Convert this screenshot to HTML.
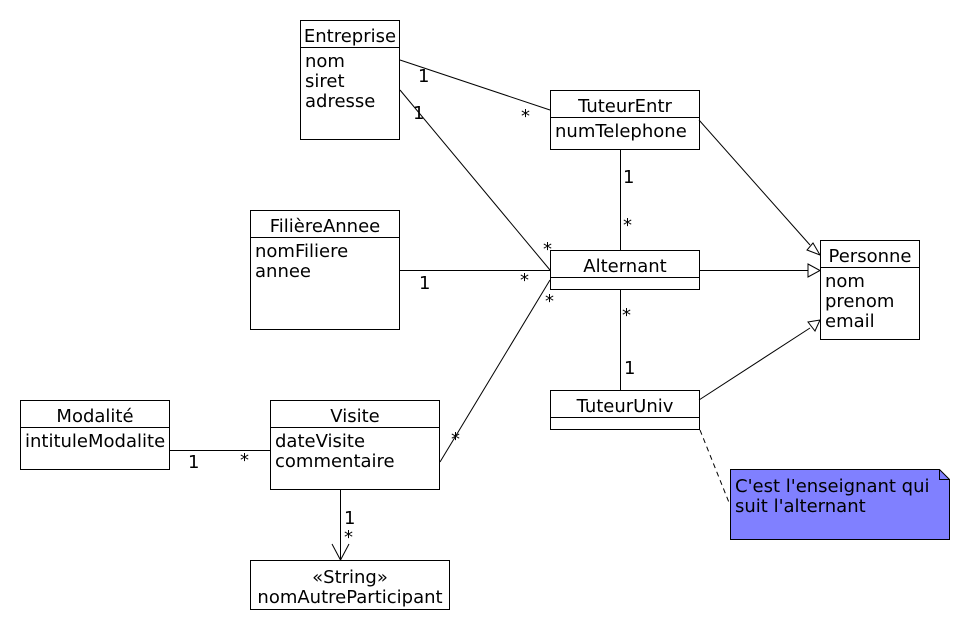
<!DOCTYPE html>
<html><head><meta charset="utf-8"><style>body{margin:0;background:#fff}svg text{font-family:"DejaVu Sans","Liberation Sans",sans-serif;font-size:18px;fill:#000}</style></head><body>
<svg width="970" height="630" viewBox="0 0 970 630" xmlns="http://www.w3.org/2000/svg">
<g fill="#fff" stroke="#000" stroke-width="1">
<rect x="300.5" y="20.5" width="99" height="119"/><line x1="300" y1="47.5" x2="400" y2="47.5"/>
<rect x="550.5" y="90.5" width="149" height="59"/><line x1="550" y1="117.5" x2="700" y2="117.5"/>
<rect x="250.5" y="210.5" width="149" height="119"/><line x1="250" y1="237.5" x2="400" y2="237.5"/>
<rect x="550.5" y="250.5" width="149" height="39"/><line x1="550" y1="277.5" x2="700" y2="277.5"/>
<rect x="820.5" y="240.5" width="99" height="99"/><line x1="820" y1="267.5" x2="920" y2="267.5"/>
<rect x="550.5" y="390.5" width="149" height="39"/><line x1="550" y1="417.5" x2="700" y2="417.5"/>
<rect x="20.5" y="400.5" width="149" height="69"/><line x1="20" y1="427.5" x2="170" y2="427.5"/>
<rect x="270.5" y="400.5" width="169" height="89"/><line x1="270" y1="427.5" x2="440" y2="427.5"/>
<rect x="250.5" y="560.5" width="199" height="49"/>
<path d="M730.5 469.5 H939.5 L949.5 479.5 V539.5 H730.5 Z" fill="#8080ff"/>
<path d="M939.5 469.5 V479.5 H949.5" fill="none"/>
</g>
<g stroke="#000" fill="none">
<line x1="400" y1="60" x2="550" y2="110"/>
<line x1="400" y1="90" x2="550" y2="270"/>
<line x1="620.5" y1="149" x2="620.5" y2="250"/>
<line x1="400" y1="270.5" x2="550" y2="270.5"/>
<line x1="550" y1="280" x2="440" y2="462"/>
<line x1="620.5" y1="289" x2="620.5" y2="390"/>
<line x1="699" y1="270.5" x2="808" y2="270.5"/>
<line x1="699" y1="120" x2="810" y2="245"/>
<line x1="699" y1="400" x2="810" y2="328"/>
<line x1="169" y1="450.5" x2="270" y2="450.5"/>
<line x1="340.5" y1="489" x2="340.5" y2="560"/>
<path d="M332 544 L340.5 560 L349 544"/>
<line x1="700" y1="430" x2="730" y2="505" stroke-dasharray="5,4"/>
<path d="M808 264 L820 270.5 L808 277 Z" fill="#fff"/>
<path d="M807 250 L820 255 L813 243 Z" fill="#fff"/>
<path d="M808 322 L820 320 L815 331 Z" fill="#fff"/>
</g>
<g text-anchor="middle">
<text x="350" y="42">Entreprise</text>
<text x="625" y="112">TuteurEntr</text>
<text x="325" y="232">FilièreAnnee</text>
<text x="625" y="272">Alternant</text>
<text x="870" y="262">Personne</text>
<text x="625" y="412">TuteurUniv</text>
<text x="95" y="422">Modalité</text>
<text x="355" y="422">Visite</text>
<text x="350" y="583">«String»</text>
<text x="350" y="603">nomAutreParticipant</text>
</g>
<text x="305" y="67">nom</text><text x="305" y="87">siret</text><text x="305" y="107">adresse</text>
<text x="555" y="137">numTelephone</text>
<text x="255" y="257">nomFiliere</text><text x="255" y="277">annee</text>
<text x="825" y="287">nom</text><text x="825" y="307">prenom</text><text x="825" y="327">email</text>
<text x="25" y="447">intituleModalite</text>
<text x="275" y="447">dateVisite</text><text x="275" y="467">commentaire</text>
<text x="735" y="492">C'est l'enseignant qui</text><text x="735" y="512">suit l'alternant</text>
<text x="418" y="82">1</text><text x="521" y="122">*</text>
<text x="413" y="119">1</text><text x="543" y="255">*</text>
<text x="623" y="183">1</text><text x="623" y="231">*</text>
<text x="419" y="289">1</text><text x="520" y="286">*</text>
<text x="545" y="307">*</text><text x="451" y="445">*</text>
<text x="622" y="321">*</text><text x="624" y="374">1</text>
<text x="188" y="468">1</text><text x="240" y="466">*</text>
<text x="344" y="524">1</text><text x="344" y="543">*</text>
</svg>
</body></html>
